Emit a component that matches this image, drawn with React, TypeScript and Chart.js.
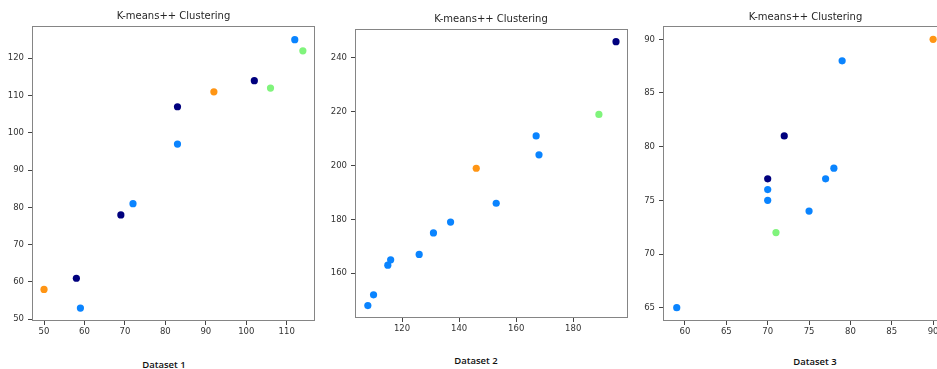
import React, { useEffect, useRef } from "react";
import { Chart, registerables } from "chart.js";

Chart.register(...registerables);

// Cluster colours (jet-like palette): 0 navy, 1 blue, 2 green, 3 orange
const clusterColors = ["#00007e", "#0a84ff", "#80f47c", "#ff9514"];

// Dataset 1
const d1X = [50, 58, 59, 69, 72, 83, 83, 92, 102, 106, 112, 114];
const d1Y = [58, 61, 53, 78, 81, 107, 97, 111, 114, 112, 125, 122];
const d1C = [3, 0, 1, 0, 1, 0, 1, 3, 0, 2, 1, 2];
const d1XTicks = [50, 60, 70, 80, 90, 100, 110];
const d1YTicks = [50, 60, 70, 80, 90, 100, 110, 120];

// Dataset 2
const d2X = [108, 110, 115, 116, 126, 131, 137, 146, 153, 167, 168, 189, 195];
const d2Y = [148, 152, 163, 165, 167, 175, 179, 199, 186, 211, 204, 219, 246];
const d2C = [1, 1, 1, 1, 1, 1, 1, 3, 1, 1, 1, 2, 0];
const d2XTicks = [120, 140, 160, 180];
const d2YTicks = [160, 180, 200, 220, 240];

// Dataset 3
const d3X = [59, 70, 70, 70, 71, 72, 75, 77, 78, 79, 90];
const d3Y = [65, 77, 76, 75, 72, 81, 74, 77, 78, 88, 90];
const d3C = [1, 0, 1, 1, 2, 0, 1, 1, 1, 1, 3];
const d3XTicks = [60, 65, 70, 75, 80, 85, 90];
const d3YTicks = [65, 70, 75, 80, 85, 90];

const chartTitle = "K-means++ Clustering";
const captions = ["Dataset 1", "Dataset 2", "Dataset 3"];

const framePlugin = {
  id: "frameBox",
  beforeDatasetsDraw(chart: any) {
    const { ctx, chartArea: a } = chart;
    ctx.save();
    ctx.strokeStyle = "#858585";
    ctx.lineWidth = 1;
    const x0 = Math.round(a.left) + 0.5;
    const y0 = Math.round(a.top) + 0.5;
    const x1 = Math.round(a.right) - 0.5;
    const y1 = Math.round(a.bottom) - 0.5;
    ctx.strokeRect(x0, y0, x1 - x0, y1 - y0);
    ctx.restore();
  },
};

type PanelProps = {
  xs: number[];
  ys: number[];
  cs: number[];
  xTicks: number[];
  yTicks: number[];
  xMin: number;
  xMax: number;
  yMin: number;
  yMax: number;
  left: number;
  yAxisW: number;
  width: number;
  top: number;
  bottom: number;
  xAxisH: number;
  titleX: number;
  titleY: number;
  caption: string;
  capX: number;
  capY: number;
};

const VIEW_W = 937;
const VIEW_H = 369;

function Panel(p: PanelProps) {
  const ref = useRef<HTMLCanvasElement | null>(null);
  const height = p.bottom + p.xAxisH;
  useEffect(() => {
    if (!ref.current) return;
    const tickFont = { family: "'DejaVu Sans', sans-serif", size: 8.5 };
    const chart = new Chart(ref.current, {
      type: "scatter",
      data: {
        datasets: [
          {
            data: p.xs.map((x, i) => ({ x, y: p.ys[i] })),
            pointBackgroundColor: p.cs.map((c) => clusterColors[c]),
            pointBorderWidth: 0,
            pointRadius: 3.6,
            pointHoverRadius: 3.6,
          },
        ],
      },
      options: {
        animation: false,
        responsive: false,
        maintainAspectRatio: false,
        devicePixelRatio: 1,
        layout: { autoPadding: false, padding: { top: p.top, left: 0, right: 0, bottom: 0 } },
        plugins: { legend: { display: false }, tooltip: { enabled: false }, title: { display: false } },
        scales: {
          x: {
            type: "linear",
            min: p.xMin,
            max: p.xMax,
            afterFit: (s: any) => {
              s.height = p.xAxisH;
            },
            afterBuildTicks: (s: any) => {
              s.ticks = p.xTicks.map((v) => ({ value: v }));
            },
            grid: { drawOnChartArea: false, drawTicks: true, tickLength: 4, tickColor: "#444", color: "#444" },
            border: { display: false },
            ticks: { font: tickFont, color: "#333", padding: 2, maxRotation: 0, autoSkip: false },
          },
          y: {
            type: "linear",
            min: p.yMin,
            max: p.yMax,
            afterFit: (s: any) => {
              s.width = p.yAxisW;
            },
            afterBuildTicks: (s: any) => {
              s.ticks = p.yTicks.map((v) => ({ value: v }));
            },
            grid: { drawOnChartArea: false, drawTicks: true, tickLength: 4, tickColor: "#444", color: "#444" },
            border: { display: false },
            ticks: { font: tickFont, color: "#333", padding: 4, autoSkip: false },
          },
        },
      },
      plugins: [framePlugin],
    });
    return () => chart.destroy();
  }, []);

  const clipW = Math.min(p.width, VIEW_W - p.left);
  const clipH = Math.min(height, VIEW_H);

  return (
    <>
      <div
        style={{
          position: "absolute",
          left: p.left,
          top: 0,
          width: clipW,
          height: clipH,
          overflow: "hidden",
        }}
      >
        <div style={{ position: "absolute", left: 0, top: 0, width: p.width, height }}>
          <canvas
            ref={ref}
            width={p.width}
            height={height}
            style={{ display: "block", width: p.width, height }}
          />
        </div>
      </div>
      <div
        style={{
          position: "absolute",
          left: p.titleX - 100,
          width: 200,
          top: p.titleY - 7,
          height: 14,
          lineHeight: "14px",
          textAlign: "center",
          font: "10px 'DejaVu Sans', sans-serif",
          color: "#262626",
          whiteSpace: "nowrap",
        }}
      >
        {chartTitle}
      </div>
      <div
        style={{
          position: "absolute",
          left: p.capX - 60,
          width: 120,
          top: p.capY - 7,
          height: 14,
          lineHeight: "14px",
          textAlign: "center",
          font: "600 9.5px 'Open Sans', sans-serif",
          color: "#111",
          whiteSpace: "nowrap",
        }}
      >
        {p.caption}
      </div>
    </>
  );
}

export default function App() {
  return (
    <div
      style={{
        position: "fixed",
        left: 0,
        top: 0,
        width: VIEW_W,
        height: VIEW_H,
        overflow: "hidden",
        background: "#ffffff",
      }}
    >
      <Panel
        xs={d1X}
        ys={d1Y}
        cs={d1C}
        xTicks={d1XTicks}
        yTicks={d1YTicks}
        xMin={47.03}
        xMax={117.0}
        yMin={49.54}
        yMax={128.66}
        left={0}
        yAxisW={32}
        width={315}
        top={26}
        bottom={321}
        xAxisH={24}
        titleX={173.5}
        titleY={17}
        caption={captions[0]}
        capX={164}
        capY={365}
      />
      <Panel
        xs={d2X}
        ys={d2Y}
        cs={d2C}
        xTicks={d2XTicks}
        yTicks={d2YTicks}
        xMin={103.5}
        xMax={199.2}
        yMin={143.4}
        yMax={250.7}
        left={320}
        yAxisW={35}
        width={308}
        top={29}
        bottom={318}
        xAxisH={24}
        titleX={491}
        titleY={20}
        caption={captions[1]}
        capX={476}
        capY={361}
      />
      <Panel
        xs={d3X}
        ys={d3Y}
        cs={d3C}
        xTicks={d3XTicks}
        yTicks={d3YTicks}
        xMin={57.34}
        xMax={91.8}
        yMin={63.76}
        yMax={91.24}
        left={628}
        yAxisW={35}
        width={320}
        top={26}
        bottom={321}
        xAxisH={24}
        titleX={805.5}
        titleY={17.5}
        caption={captions[2]}
        capX={815}
        capY={362}
      />
    </div>
  );
}
